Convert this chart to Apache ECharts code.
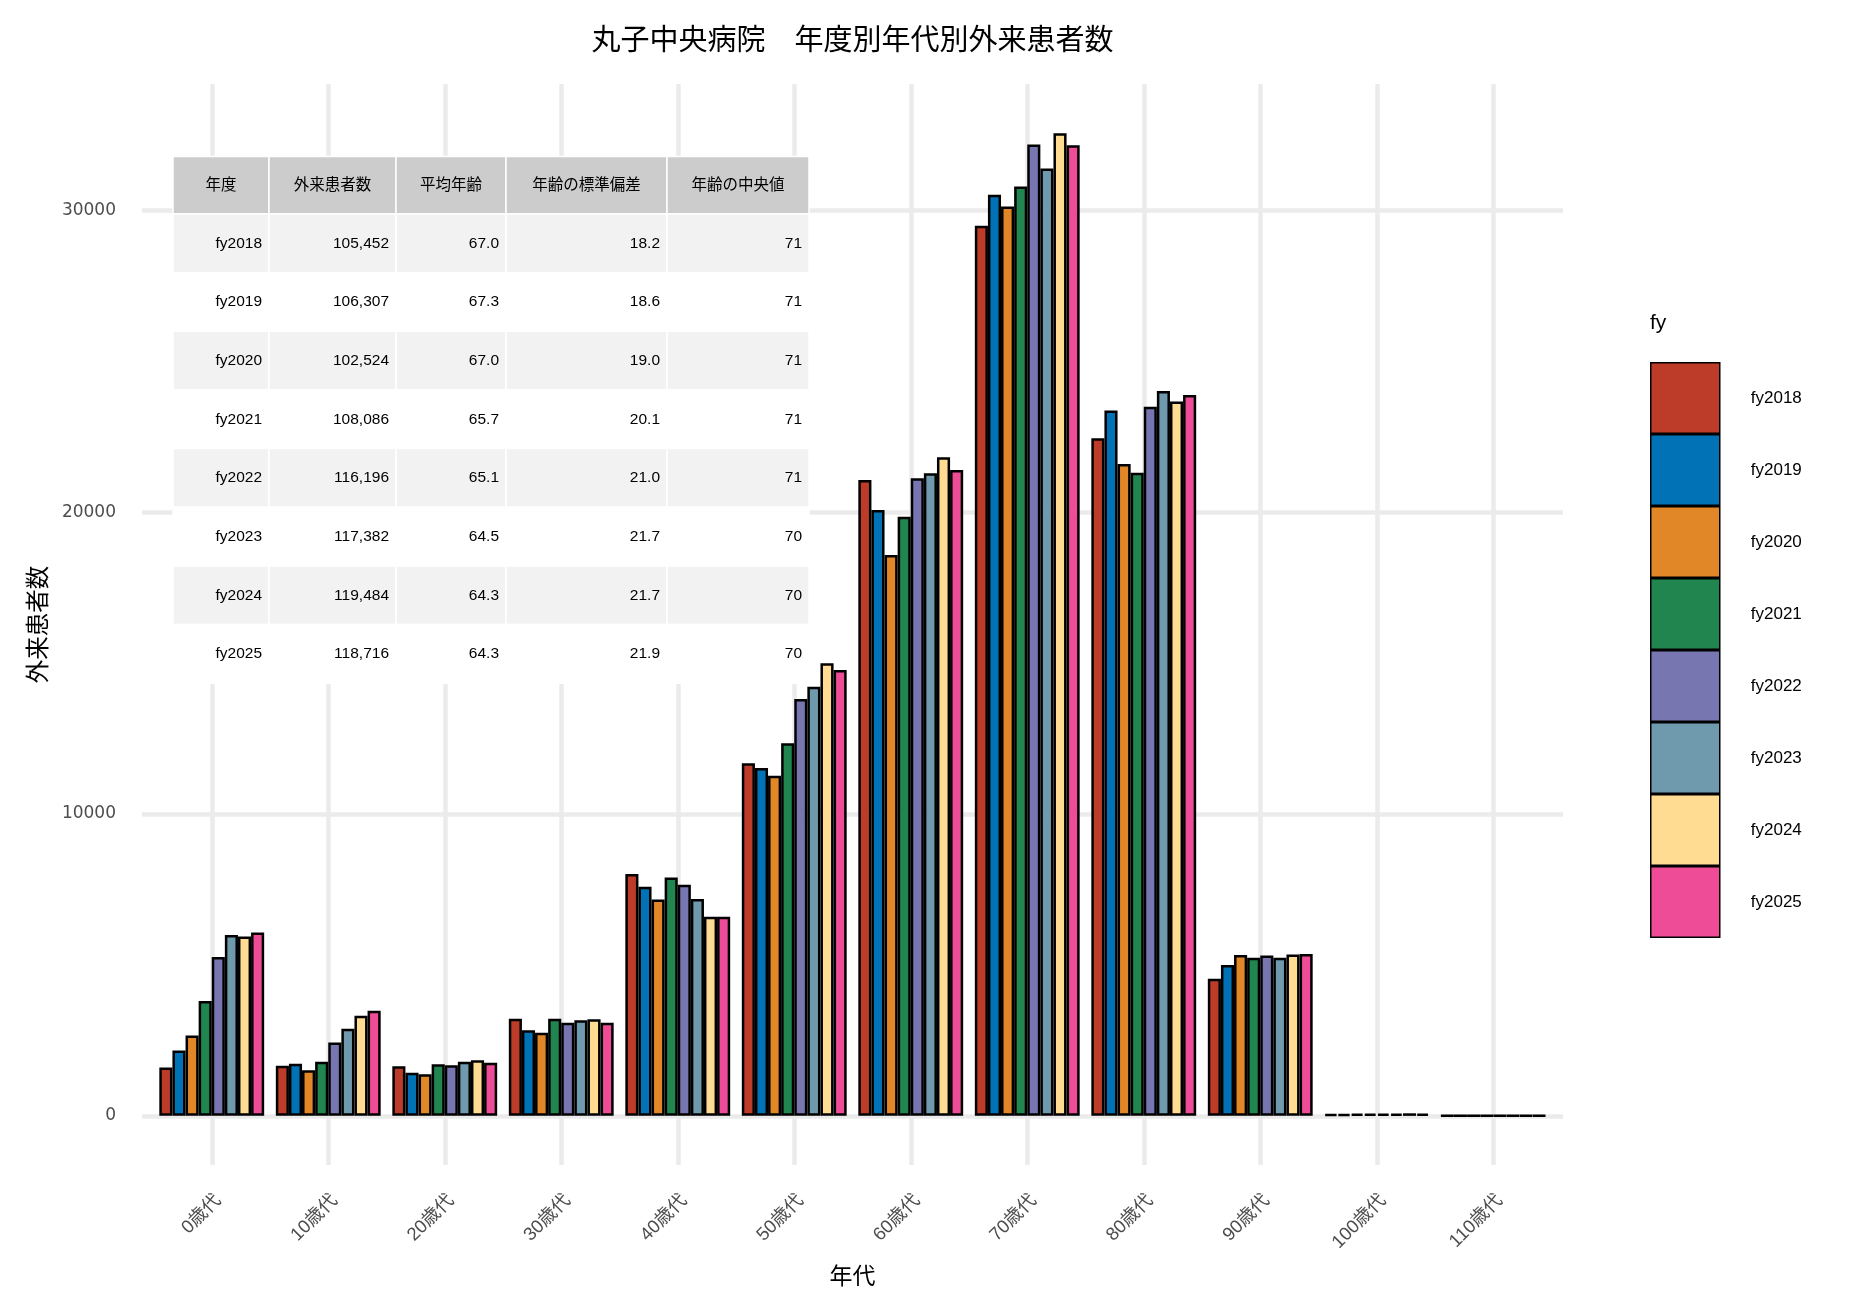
<!DOCTYPE html>
<html>
<head>
<meta charset="utf-8">
<title>丸子中央病院 年度別年代別外来患者数</title>
<script src="https://cdn.jsdelivr.net/npm/echarts@6/dist/echarts.min.js"></script>
<style>
html,body{margin:0;padding:0;background:#fff;}
#chart{width:1860px;height:1315px;}
</style>
</head>
<body>
<div id="chart"></div>
<script type="text/javascript">
// 年代（カテゴリ）
var ageGroups = ['0歳代', '10歳代', '20歳代', '30歳代', '40歳代', '50歳代', '60歳代', '70歳代', '80歳代', '90歳代', '100歳代', '110歳代'];
var fyLabels = ['fy2018', 'fy2019', 'fy2020', 'fy2021', 'fy2022', 'fy2023', 'fy2024', 'fy2025'];

// 年度別 外来患者数（年代順）
var fy2018 = [1604, 1657, 1647, 3215, 8011, 11680, 21071, 29490, 22453, 4541, 55, 5];
var fy2019 = [2168, 1724, 1425, 2840, 7590, 11525, 20076, 30517, 23368, 4995, 60, 5];
var fy2020 = [2665, 1515, 1382, 2751, 7172, 11270, 18585, 30130, 21601, 5327, 70, 5];
var fy2021 = [3802, 1790, 1714, 3215, 7901, 12343, 19854, 30792, 21313, 5237, 75, 8];
var fy2022 = [5260, 2433, 1680, 3083, 7657, 13812, 21127, 32185, 23500, 5316, 80, 5];
var fy2023 = [5989, 2884, 1790, 3172, 7183, 14219, 21292, 31389, 24021, 5237, 80, 10];
var fy2024 = [5946, 3315, 1846, 3204, 6596, 14995, 21823, 32562, 23666, 5350, 85, 8];
var fy2025 = [6078, 3480, 1757, 3083, 6596, 14773, 21402, 32164, 23888, 5360, 75, 12];
var fyValues = [fy2018, fy2019, fy2020, fy2021, fy2022, fy2023, fy2024, fy2025];

// y軸目盛
var yTicks = [0, 10000, 20000, 30000];

// 集計表
var tblHeader = ['年度', '外来患者数', '平均年齢', '年齢の標準偏差', '年齢の中央値'];
var tblPatients = [105452, 106307, 102524, 108086, 116196, 117382, 119484, 118716];
var tblMeanAge = [67.0, 67.3, 67.0, 65.7, 65.1, 64.5, 64.3, 64.3];
var tblSdAge = [18.2, 18.6, 19.0, 20.1, 21.0, 21.7, 21.7, 21.9];
var tblMedianAge = [71, 71, 71, 71, 71, 70, 70, 70];

var fyColors = ['#BC3C29', '#0072B5', '#E18727', '#20854E', '#7876B1', '#6F99AD', '#FFDC91', '#EE4C97'];

var FONT = "'Liberation Sans', 'Noto Sans CJK JP', sans-serif";
var panelTop = 84, panelH = 1081;
var yMin = -1628, yMax = 34190;

// 表を graphic で組み立てる
function buildTable() {
	var colX = [173, 269, 396, 506, 667, 809];
	var top = 156.5, headH = 57.5, rowH = 58.65;
	var els = [];
	var i, r;
	for (i = 0; i < tblHeader.length; i++) {
		els.push({
			type: 'rect', z: 1,
			shape: {x: colX[i], y: top, width: colX[i + 1] - colX[i], height: headH},
			style: {fill: '#CCCCCC', stroke: '#ffffff', lineWidth: 1.5}
		});
		els.push({
			type: 'text', z: 2,
			style: {
				text: tblHeader[i], x: (colX[i] + colX[i + 1]) / 2, y: top + headH / 2,
				textAlign: 'center', textVerticalAlign: 'middle',
				fill: '#000', fontSize: 15.5, fontFamily: FONT
			}
		});
	}
	for (r = 0; r < fyLabels.length; r++) {
		var y0 = top + headH + r * rowH;
		var cells = [
			fyLabels[r],
			tblPatients[r].toLocaleString('en-US'),
			tblMeanAge[r].toFixed(1),
			tblSdAge[r].toFixed(1),
			String(tblMedianAge[r])
		];
		for (i = 0; i < cells.length; i++) {
			els.push({
				type: 'rect', z: 1,
				shape: {x: colX[i], y: y0, width: colX[i + 1] - colX[i], height: rowH},
				style: {fill: r % 2 === 0 ? '#F2F2F2' : '#FFFFFF', stroke: '#ffffff', lineWidth: 1.5}
			});
			els.push({
				type: 'text', z: 2,
				style: {
					text: cells[i], x: colX[i + 1] - 7, y: y0 + rowH / 2,
					textAlign: 'right', textVerticalAlign: 'middle',
					fill: '#000', fontSize: 15.5, fontFamily: FONT
				}
			});
		}
	}
	return els;
}

var graphics = buildTable();
// 凡例タイトル
graphics.push({
	type: 'text', z: 2,
	style: {text: 'fy', x: 1650, y: 323, textVerticalAlign: 'middle', fill: '#000', fontSize: 21, fontFamily: FONT}
});

var series = [];
for (var k = 0; k < fyLabels.length; k++) {
	series.push({
		name: fyLabels[k],
		type: 'bar',
		xAxisIndex: 0,
		yAxisIndex: 0,
		data: fyValues[k],
		barGap: '0%',
		barCategoryGap: '10%',
		itemStyle: {color: fyColors[k], borderColor: '#000', borderWidth: 2.5},
		emphasis: {disabled: true}
	});
}

var myChart = echarts.init(document.getElementById('chart'), null, {renderer: 'canvas'});
var option = {
	animation: false,
	backgroundColor: '#fff',
	textStyle: {fontFamily: FONT},
	title: {
		text: '丸子中央病院　年度別年代別外来患者数',
		left: 852.5, top: 27.5, textAlign: 'center',
		padding: 0,
		textStyle: {fontSize: 29, fontWeight: 'normal', color: '#000', fontFamily: FONT}
	},
	legend: {
		data: fyLabels,
		orient: 'vertical',
		left: 1650, top: 362,
		padding: 0,
		itemWidth: 69, itemHeight: 70.5, itemGap: 0,
		icon: 'rect',
		itemStyle: {borderColor: '#000', borderWidth: 1.5},
		textStyle: {fontSize: 17, color: '#000', fontFamily: FONT, padding: [0, 0, 0, 26]},
		selectedMode: false
	},
	grid: [
		// 棒グラフ
		{left: 153.5, top: panelTop, width: 1398, height: panelH, containLabel: false, outerBoundsMode: 'none'},
		// 横のグリッド線・y軸ラベル
		{left: 142, top: panelTop, width: 1421, height: panelH, containLabel: false, outerBoundsMode: 'none'},
		// 縦のグリッド線
		{left: 211.75, top: panelTop, width: 1281.5, height: panelH, containLabel: false, outerBoundsMode: 'none'}
	],
	xAxis: [
		{
			gridIndex: 0, type: 'category', data: ageGroups,
			name: '年代', nameLocation: 'middle', nameGap: 101,
			nameTextStyle: {fontSize: 23, color: '#000', fontFamily: FONT},
			axisLine: {show: false}, axisTick: {show: false}, splitLine: {show: false},
			axisLabel: {interval: 0, rotate: 45, margin: 26, verticalAlign: 'top', fontSize: 18.5, color: '#4D4D4D', fontFamily: FONT}
		},
		{gridIndex: 1, type: 'category', data: ageGroups, show: false},
		{
			gridIndex: 2, type: 'category', data: ageGroups, boundaryGap: false,
			axisLine: {show: false}, axisTick: {show: false}, axisLabel: {show: false},
			splitLine: {show: true, lineStyle: {color: '#EBEBEB', width: 4.5}}
		}
	],
	yAxis: [
		{gridIndex: 0, type: 'value', min: yMin, max: yMax, show: false, splitLine: {show: false}},
		{
			gridIndex: 1, type: 'value', min: yMin, max: yMax,
			name: '外来患者数', nameLocation: 'middle', nameGap: 91,
			nameTextStyle: {fontSize: 23.5, color: '#000', fontFamily: FONT},
			axisLine: {show: false}, axisTick: {show: false},
			axisLabel: {
				margin: 26, fontSize: 17, color: '#4D4D4D', fontFamily: "'DejaVu Sans', sans-serif",
				customValues: yTicks,
				padding: [4, 0, 0, 0],
				formatter: function (v) { return String(v); }
			},
			splitLine: {show: true, showMinLine: false, showMaxLine: false, lineStyle: {color: '#EBEBEB', width: 4.5}}
		},
		{gridIndex: 2, type: 'value', min: yMin, max: yMax, show: false, splitLine: {show: false}}
	],
	graphic: {elements: graphics},
	series: series
};
myChart.setOption(option);
</script>
</body>
</html>
